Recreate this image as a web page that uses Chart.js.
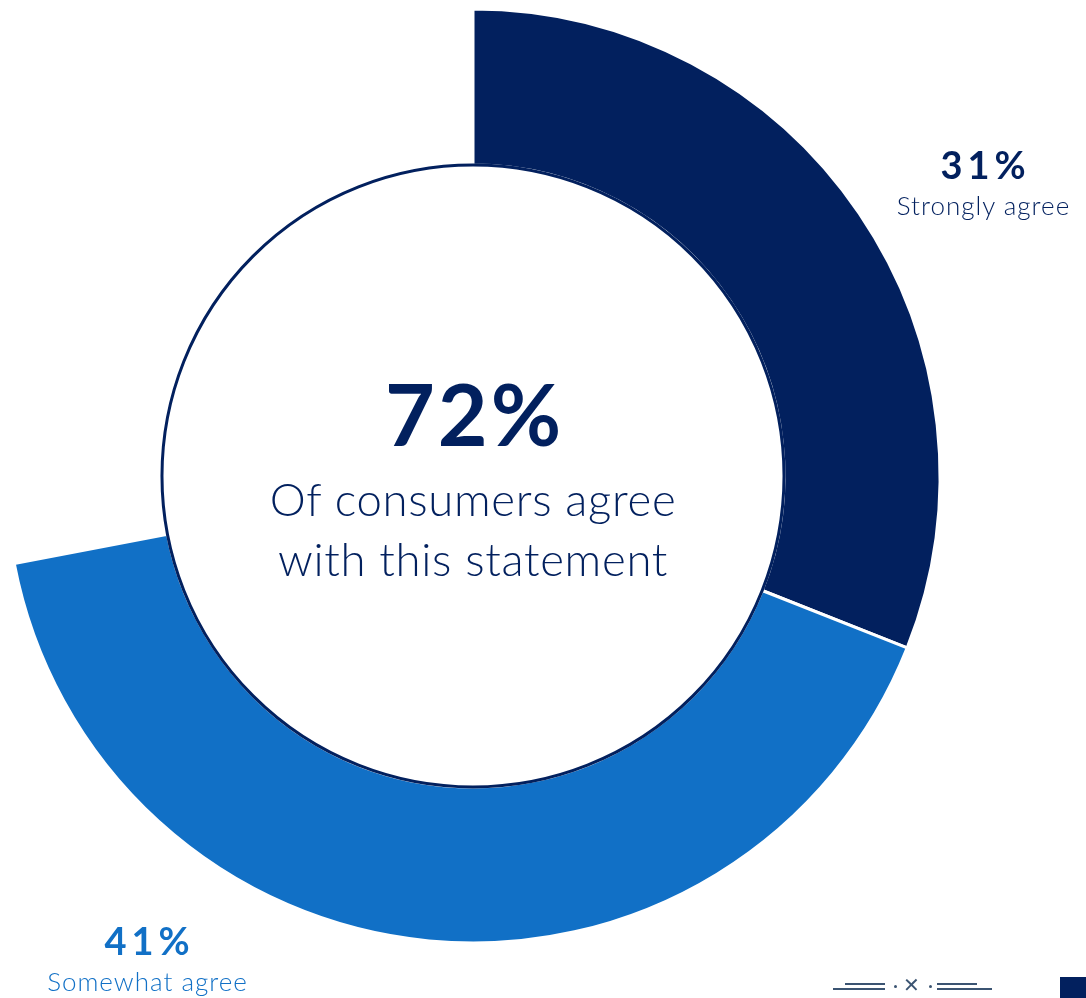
<!DOCTYPE html>
<html>
<head>
<meta charset="utf-8">
<script src="https://cdn.jsdelivr.net/npm/chart.js@4/dist/chart.umd.min.js"></script>
<style>
  html, body { margin: 0; padding: 0; background: #fff; }
  #wrap { position: relative; width: 1086px; height: 998px; overflow: hidden; font-family: Lato, 'Open Sans', sans-serif; }
  #agree-chart { position: absolute; left: 0; top: 0; }
  .lbl { position: absolute; text-align: center; white-space: nowrap; transform: translateX(-50%); }
  .pct { font-weight: 700; font-size: 38px; letter-spacing: 5px; margin-right: -5px; line-height: 1; }
  .cat { font-weight: 300; font-size: 26px; letter-spacing: 1px; margin-right: -1px; line-height: 1; margin-top: 9px; }
  #center { position: absolute; left: 473px; top: 370px; transform: translateX(-50%); text-align: center; color: #02205e; white-space: nowrap; }
  #center .big { font-weight: 700; font-size: 86px; line-height: 1; letter-spacing: 3px; margin-right: -3px; }
  #center .sub { font-weight: 300; font-size: 45.5px; line-height: 60px; margin-top: 13px; letter-spacing: 0.7px; }
  .rule { position: absolute; height: 2px; background: #3b5472; }
  .dot { position: absolute; width: 3px; height: 3px; border-radius: 2px; background: #3b5472; }
  #mark { position: absolute; left: 903px; top: 975px; font-size: 20px; line-height: 20px; color: #3b5472; font-family: 'DejaVu Sans', sans-serif; }
  #square { position: absolute; left: 1060px; top: 977px; width: 26px; height: 21px; background: #02205e; }
</style>
</head>
<body>
<div id="wrap">
  <canvas id="agree-chart" width="1086" height="998"></canvas>
  <div id="center"></div>
  <div id="labels"></div>
  <div class="rule" style="left:845px;top:983px;width:40px"></div>
  <div class="rule" style="left:833px;top:988px;width:52px"></div>
  <div class="dot" style="left:894px;top:985px"></div>
  <div id="mark">✕</div>
  <div class="dot" style="left:929px;top:985px"></div>
  <div class="rule" style="left:937px;top:983px;width:40px"></div>
  <div class="rule" style="left:937px;top:988px;width:55px"></div>
  <div id="square"></div>
</div>
<script>
var categories = ['Strongly agree', 'Somewhat agree']
var shares = [31, 41]
var colors = ['#02205e', '#1170c6']
// where each label block sits (center x, top y)
var labelSpots = [[983, 145], [147, 921]]

var navy = '#02205e'
var agreeTotal = shares.reduce(function (a, b) { return a + b }, 0)
var rest = 100 - agreeTotal

var center = document.getElementById('center')
center.innerHTML = '<div class="big">' + agreeTotal + '%</div>' +
  '<div class="sub">Of consumers agree<br>with this statement</div>'

var labels = document.getElementById('labels')
categories.forEach(function (name, i) {
  var el = document.createElement('div')
  el.className = 'lbl'
  el.style.left = labelSpots[i][0] + 'px'
  el.style.top = labelSpots[i][1] + 'px'
  el.style.color = colors[i]
  el.innerHTML = '<div class="pct">' + shares[i] + '%</div><div class="cat">' + name + '</div>'
  labels.appendChild(el)
})

// thin ring around the white hole
var innerRing = {
  id: 'innerRing',
  afterDatasetsDraw: function (chart) {
    var arc = chart.getDatasetMeta(0).data[0]
    var c = chart.ctx
    c.save()
    c.beginPath()
    c.arc(arc.x, arc.y, arc.innerRadius, 0, Math.PI * 2)
    c.strokeStyle = navy
    c.lineWidth = 3
    c.stroke()
    c.restore()
  }
}

var ctx = document.getElementById('agree-chart')

var agreeChart = new Chart(ctx, {
  type: 'doughnut',
  data: {
    labels: categories.concat(['Other']),
    datasets: [
      {
        data: shares.concat([rest]),
        backgroundColor: colors.concat(['rgba(0,0,0,0)']),
        borderColor: '#ffffff',
        borderWidth: [3, 3, 0]
      }
    ]
  },
  options: {
    responsive: false,
    animation: false,
    events: [],
    radius: 467,
    cutout: '66.6%',
    layout: { padding: { left: 0, top: 0, right: 140, bottom: 46 } },
    plugins: {
      legend: { display: false },
      tooltip: { enabled: false }
    }
  },
  plugins: [innerRing]
})
</script>
</body>
</html>
